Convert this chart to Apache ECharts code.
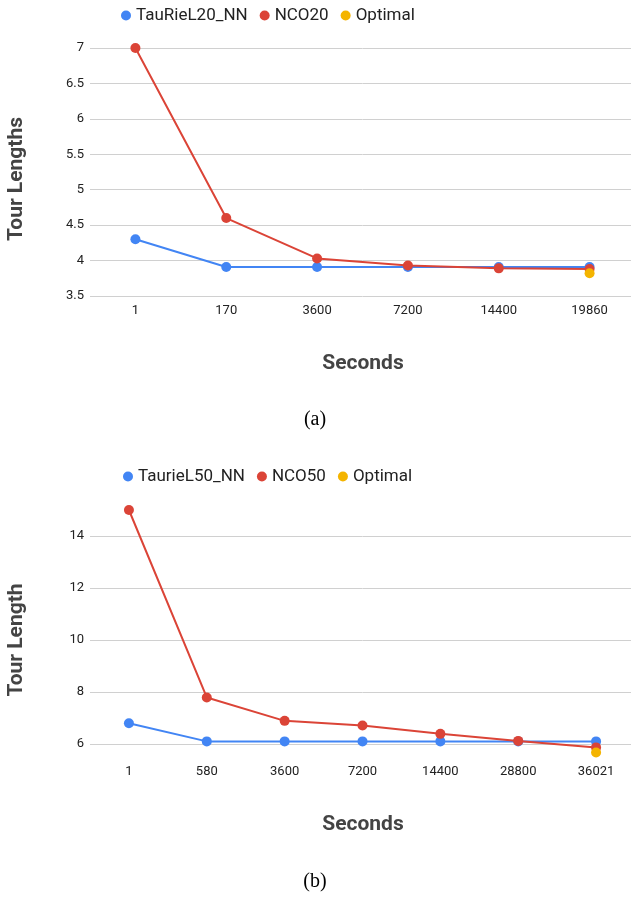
<!DOCTYPE html>
<html><head><meta charset="utf-8">
<script src="https://cdn.jsdelivr.net/npm/echarts@6/dist/echarts.min.js"></script>
<style>html,body{margin:0;padding:0;background:#fff;overflow:hidden}#c{width:640px;height:898px}</style>
</head><body><div id="c"></div>
<script>
// Chart (a)
const catsA = ['1','170','3600','7200','14400','19860'];
const tauA = [4.30, 3.91, 3.91, 3.91, 3.91, 3.91];
const ncoA = [7.00, 4.60, 4.03, 3.93, 3.89, 3.88];
const optA = ['-', '-', '-', '-', '-', 3.82];
// Chart (b)
const catsB = ['1','580','3600','7200','14400','28800','36021'];
const tauB = [6.80, 6.10, 6.10, 6.10, 6.10, 6.10, 6.10];
const ncoB = [15.0, 7.79, 6.89, 6.71, 6.39, 6.12, 5.87];
const optB = ['-', '-', '-', '-', '-', '-', 5.67];
const yTicksB = [6, 8, 10, 12, 14];

const BLUE = '#4285F4', RED = '#DB4437', YEL = '#F4B400';
const labelStyle = {color: '#222', fontSize: 13, fontFamily: 'Roboto'};
const nameFont = {fontFamily: 'Roboto', fontWeight: 'bold', fontSize: 21, fill: '#444'};

function line(name, data, color, xi, z) {
  return {name, type: 'line', data, xAxisIndex: xi, yAxisIndex: xi, z,
    symbol: 'circle', symbolSize: 10, showSymbol: true,
    lineStyle: {color, width: 2}, itemStyle: {color}, emphasis: {disabled: true}, animation: false};
}

const chart = echarts.init(document.getElementById('c'));
chart.setOption({
  animation: false,
  grid: [
    {left: 90, top: 48, width: 545, height: 248},
    {left: 90, top: 510, width: 545, height: 247}
  ],
  legend: [
    {data: ['TauRieL20_NN', 'NCO20', 'Optimal'], left: 116, top: 2, icon: 'circle', itemWidth: 10, itemHeight: 10, itemGap: 12,
      textStyle: {fontFamily: 'Roboto', fontSize: 17, color: '#222'}, selectedMode: false},
    {data: ['TaurieL50_NN', 'NCO50', 'Optimal '], left: 118, top: 463, icon: 'circle', itemWidth: 10, itemHeight: 10, itemGap: 12,
      textStyle: {fontFamily: 'Roboto', fontSize: 17, color: '#222'}, selectedMode: false,
      formatter: n => n.trim()}
  ],
  xAxis: [
    {type: 'category', data: catsA, gridIndex: 0, axisLine: {show: false}, axisTick: {show: false},
      axisLabel: Object.assign({margin: 8}, labelStyle)},
    {type: 'category', data: catsB, gridIndex: 1, axisLine: {show: false}, axisTick: {show: false},
      axisLabel: Object.assign({margin: 8}, labelStyle)}
  ],
  yAxis: [
    {type: 'value', gridIndex: 0, min: 3.5, max: 7, interval: 0.5, axisLine: {show: false}, axisTick: {show: false},
      axisLabel: Object.assign({margin: 6}, labelStyle), splitLine: {lineStyle: {color: '#d0d0d0', width: 1}}},
    {type: 'value', gridIndex: 1, min: 5.5, max: 15, axisLine: {show: false},
      axisTick: {show: false, customValues: yTicksB},
      axisLabel: Object.assign({margin: 6, customValues: yTicksB}, labelStyle), splitLine: {lineStyle: {color: '#d0d0d0', width: 1}}}
  ],
  series: [
    line('TauRieL20_NN', tauA, BLUE, 0, 2),
    line('NCO20', ncoA, RED, 0, 3),
    line('Optimal', optA, YEL, 0, 4),
    line('TaurieL50_NN', tauB, BLUE, 1, 2),
    line('NCO50', ncoB, RED, 1, 3),
    line('Optimal ', optB, YEL, 1, 4)
  ],
  graphic: [
    {type: 'text', x: 17, y: 179, rotation: Math.PI / 2, style: Object.assign({text: 'Tour Lengths', align: 'center', verticalAlign: 'middle'}, nameFont)},
    {type: 'text', x: 17, y: 640, rotation: Math.PI / 2, style: Object.assign({text: 'Tour Length', align: 'center', verticalAlign: 'middle'}, nameFont)},
    {type: 'text', x: 363, y: 364, style: Object.assign({text: 'Seconds', align: 'center', verticalAlign: 'middle'}, nameFont)},
    {type: 'text', x: 363, y: 825, style: Object.assign({text: 'Seconds', align: 'center', verticalAlign: 'middle'}, nameFont)},
    {type: 'text', x: 315, y: 420, style: {text: '(a)', align: 'center', verticalAlign: 'middle', fontFamily: 'Liberation Serif', fontSize: 20, fill: '#000'}},
    {type: 'text', x: 315, y: 882, style: {text: '(b)', align: 'center', verticalAlign: 'middle', fontFamily: 'Liberation Serif', fontSize: 20, fill: '#000'}}
  ]
});
</script></body></html>
